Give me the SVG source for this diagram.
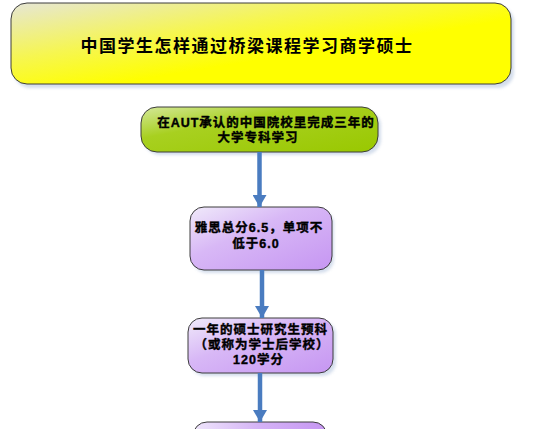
<svg xmlns="http://www.w3.org/2000/svg" width="554" height="429" viewBox="0 0 554 429">
<defs>
<linearGradient id="gY" x1="0" y1="0" x2="1" y2="1">
<stop offset="0" stop-color="#e6e6d6"/>
<stop offset="0.35" stop-color="#f6f650"/>
<stop offset="0.6" stop-color="#ffff00"/>
<stop offset="1" stop-color="#ffff00"/>
</linearGradient>
<linearGradient id="gG" x1="0" y1="0" x2="1" y2="1">
<stop offset="0" stop-color="#d4e89a"/>
<stop offset="0.35" stop-color="#a8d020"/>
<stop offset="1" stop-color="#99c800"/>
</linearGradient>
<linearGradient id="gP" x1="0" y1="0" x2="1" y2="1">
<stop offset="0" stop-color="#f0eafa"/>
<stop offset="0.4" stop-color="#d8b8f6"/>
<stop offset="1" stop-color="#c696f2"/>
</linearGradient>
<linearGradient id="gP2" x1="0" y1="0" x2="1" y2="0">
<stop offset="0" stop-color="#efe6fb"/>
<stop offset="0.5" stop-color="#d4b2f6"/>
<stop offset="1" stop-color="#c696f2"/>
</linearGradient>
<filter id="sh" x="-10%" y="-20%" width="120%" height="150%">
<feGaussianBlur stdDeviation="1.5"/>
</filter>
<marker id="ah" markerWidth="12" markerHeight="14" refX="12" refY="7" orient="auto" markerUnits="userSpaceOnUse" viewBox="0 0 12 14">
<path d="M0,0 L12,7 L0,14 Z" fill="#4a7cc0"/>
</marker>
</defs>
<style>
.box{stroke:#3c3c3c;stroke-width:1}
.shadow{fill:#b8c8e0;opacity:0.6}
.t{font-family:"Liberation Sans","Noto Sans CJK SC",sans-serif;font-size:12.5px;font-weight:bold;letter-spacing:1px;fill:#000;stroke:#000;stroke-width:0.4;text-anchor:middle}
.title{font-family:"Liberation Sans","Noto Sans CJK SC",sans-serif;font-size:17px;font-weight:bold;fill:#000;letter-spacing:1.5px;text-anchor:middle}
.conn{stroke:#4a7cc0;stroke-width:4.5;fill:none}
</style>
<g id="title">
<rect class="shadow" x="14" y="6" width="500" height="82" rx="16" filter="url(#sh)"/>
<rect class="box" x="11" y="3" width="500" height="81" rx="16" fill="url(#gY)"/>
<text class="title" x="247" y="52">中国学生怎样通过桥梁课程学习商学硕士</text>
</g>
<g id="node1">
<rect class="shadow" x="144" y="110" width="237" height="45" rx="16" filter="url(#sh)"/>
<rect class="box" x="141" y="107" width="237" height="45" rx="16" fill="url(#gG)"/>
<text class="t" x="266" y="127">在AUT承认的中国院校里完成三年的</text>
<text class="t" x="258" y="142">大学专科学习</text>
</g>
<g id="node2">
<rect class="shadow" x="193" y="210" width="141" height="63" rx="14" filter="url(#sh)"/>
<rect class="box" x="190" y="207" width="142" height="63" rx="14" fill="url(#gP)"/>
<text class="t" x="259" y="232">雅思总分6.5，单项不</text>
<text class="t" x="256" y="248">低于6.0</text>
</g>
<g id="node3">
<rect class="shadow" x="191" y="321" width="145" height="55" rx="14" filter="url(#sh)"/>
<rect class="box" x="188" y="318" width="145" height="55" rx="14" fill="url(#gP)"/>
<text class="t" x="260.5" y="334">一年的硕士研究生预科</text>
<text class="t" x="262" y="349">（或称为学士后学校）</text>
<text class="t" x="258.5" y="364">120学分</text>
</g>
<g id="node4">
<rect class="box" x="193" y="422" width="134" height="40" rx="14" fill="url(#gP2)"/>
</g>
<g id="connectors">
<line class="conn" x1="259.5" y1="152" x2="259.5" y2="207" marker-end="url(#ah)"/>
<line class="conn" x1="262" y1="270" x2="262" y2="318" marker-end="url(#ah)"/>
<line class="conn" x1="260" y1="373" x2="260" y2="422" marker-end="url(#ah)"/>
</g>
</svg>
